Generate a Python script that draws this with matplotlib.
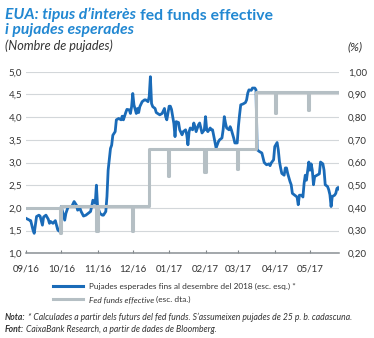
import matplotlib
matplotlib.use("Agg")
import matplotlib.pyplot as plt
from matplotlib.lines import Line2D
import pandas as pd

FONT = ['Liberation Sans Narrow', 'Lato', 'DejaVu Sans']
plt.rcParams['font.family'] = FONT

# Expected rate hikes until December 2018 (left scale, number of hikes)
hike_dates = [
    "2016-09-01", "2016-09-04", "2016-09-05", "2016-09-07", "2016-09-08", "2016-09-09",
    "2016-09-10", "2016-09-12", "2016-09-13", "2016-09-15", "2016-09-16", "2016-09-18",
    "2016-09-20", "2016-09-21", "2016-09-22", "2016-09-24", "2016-09-26", "2016-09-27",
    "2016-09-28", "2016-09-29", "2016-09-30", "2016-10-01", "2016-10-04", "2016-10-05",
    "2016-10-07", "2016-10-10", "2016-10-12", "2016-10-14", "2016-10-15", "2016-10-17",
    "2016-10-18", "2016-10-20", "2016-10-22", "2016-10-24", "2016-10-26", "2016-10-27",
    "2016-10-28", "2016-10-30", "2016-10-31", "2016-11-01", "2016-11-03", "2016-11-05",
    "2016-11-06", "2016-11-08", "2016-11-09", "2016-11-10", "2016-11-12", "2016-11-13",
    "2016-11-14", "2016-11-16", "2016-11-17", "2016-11-19", "2016-11-21", "2016-11-22",
    "2016-11-23", "2016-11-25", "2016-11-26", "2016-11-28", "2016-11-29", "2016-11-30",
    "2016-12-01", "2016-12-02", "2016-12-04", "2016-12-05", "2016-12-06", "2016-12-07",
    "2016-12-09", "2016-12-11", "2016-12-12", "2016-12-14", "2016-12-15", "2016-12-16",
    "2016-12-17", "2016-12-18", "2016-12-20", "2016-12-21", "2016-12-24", "2016-12-26",
    "2016-12-28", "2016-12-29", "2016-12-30", "2017-01-01", "2017-01-02", "2017-01-03",
    "2017-01-05", "2017-01-06", "2017-01-07", "2017-01-09", "2017-01-10", "2017-01-12",
    "2017-01-13", "2017-01-15", "2017-01-16", "2017-01-17", "2017-01-18", "2017-01-19",
    "2017-01-21", "2017-01-22", "2017-01-23", "2017-01-24", "2017-01-26", "2017-01-27",
    "2017-01-28", "2017-01-29", "2017-01-31", "2017-02-01", "2017-02-02", "2017-02-03",
    "2017-02-05", "2017-02-06", "2017-02-07", "2017-02-09", "2017-02-10", "2017-02-12",
    "2017-02-13", "2017-02-15", "2017-02-16", "2017-02-17", "2017-02-18", "2017-02-19",
    "2017-02-21", "2017-02-22", "2017-02-23", "2017-02-25", "2017-02-26", "2017-02-28",
    "2017-03-01", "2017-03-02", "2017-03-03", "2017-03-05", "2017-03-07", "2017-03-08",
    "2017-03-09", "2017-03-10", "2017-03-12", "2017-03-13", "2017-03-15", "2017-03-16",
    "2017-03-17", "2017-03-19", "2017-03-21", "2017-03-22", "2017-03-23", "2017-03-25",
    "2017-03-27", "2017-03-28", "2017-03-29", "2017-03-31", "2017-04-01", "2017-04-03",
    "2017-04-04", "2017-04-05", "2017-04-06", "2017-04-07", "2017-04-09", "2017-04-10",
    "2017-04-11", "2017-04-12", "2017-04-14", "2017-04-15", "2017-04-16", "2017-04-18",
    "2017-04-20", "2017-04-21", "2017-04-22", "2017-04-24", "2017-04-25", "2017-04-26",
    "2017-04-27", "2017-04-28", "2017-04-30", "2017-05-01", "2017-05-02", "2017-05-03",
    "2017-05-04", "2017-05-05", "2017-05-07", "2017-05-09", "2017-05-10", "2017-05-12",
    "2017-05-13", "2017-05-14", "2017-05-16", "2017-05-17", "2017-05-18", "2017-05-19",
    "2017-05-20", "2017-05-22", "2017-05-23", "2017-05-24", "2017-05-25", "2017-05-26",
]
hike_values = [
    1.77, 1.73, 1.72, 1.51, 1.44, 1.62,
    1.81, 1.84, 1.82, 1.62, 1.80, 1.84,
    1.75, 1.66, 1.70, 1.66, 1.72, 1.62,
    1.52, 1.49, 1.50, 2.03, 1.73, 1.88,
    2.03, 2.03, 2.14, 2.06, 1.95, 1.99,
    1.92, 1.82, 1.84, 1.88, 1.92, 2.03,
    2.17, 2.10, 2.50, 2.03, 1.88, 1.84,
    1.84, 1.92, 2.25, 2.83, 3.31, 3.38,
    3.60, 3.68, 3.94, 3.97, 3.94, 4.02,
    3.94, 4.10, 4.17, 4.16, 4.08, 4.23,
    4.52, 4.27, 4.08, 4.19, 4.10, 4.23,
    4.34, 4.38, 4.38, 4.34, 4.45, 4.89,
    4.30, 4.23, 4.19, 4.10, 4.05, 4.08,
    4.19, 4.01, 3.94, 4.24, 4.24, 4.17,
    3.86, 3.57, 3.90, 3.88, 3.72, 3.61,
    3.68, 3.72, 3.61, 3.39, 3.68, 3.76,
    3.72, 3.87, 3.79, 3.68, 3.83, 3.87,
    3.76, 3.65, 3.72, 4.01, 3.72, 3.68,
    3.76, 3.72, 3.72, 3.46, 3.32, 3.46,
    3.50, 3.54, 3.72, 4.01, 3.87, 3.76,
    3.72, 3.79, 3.72, 3.54, 3.43, 3.43,
    3.79, 4.05, 4.27, 4.29, 4.32, 4.38,
    4.53, 4.60, 4.59, 4.64, 4.64, 4.60,
    3.28, 3.24, 3.21, 3.10, 3.00, 2.95,
    2.97, 2.93, 2.99, 3.06, 3.35, 3.44,
    3.28, 3.02, 2.88, 2.76, 2.72, 2.88,
    2.88, 2.76, 2.58, 2.51, 2.32, 2.28,
    2.24, 2.07, 2.28, 2.28, 2.24, 2.54,
    2.72, 2.61, 3.01, 2.83, 2.97, 2.83,
    2.51, 2.69, 2.72, 2.75, 3.01, 2.97,
    2.83, 2.51, 2.47, 2.40, 2.29, 2.03,
    2.25, 2.28, 2.32, 2.43, 2.45, 2.41,
]

# Fed funds effective rate (right scale, %), given at each change of level
rate_dates = [
    "2016-09-01", "2016-09-30", "2016-10-01", "2016-10-31", "2016-11-01",
    "2016-11-30", "2016-12-01", "2016-12-15", "2016-12-31", "2017-01-01",
    "2017-01-31", "2017-02-01", "2017-02-28", "2017-03-01", "2017-03-16",
    "2017-04-01", "2017-04-02", "2017-04-29", "2017-04-30", "2017-05-26",
]
rate_values = [
    0.40, 0.29, 0.41, 0.30, 0.41,
    0.30, 0.41, 0.66, 0.54, 0.66,
    0.56, 0.66, 0.57, 0.66, 0.91,
    0.82, 0.91, 0.83, 0.91, 0.91,
]

month_ticks = ["2016-09-01", "2016-10-01", "2016-11-01", "2016-12-01", "2017-01-01",
               "2017-02-01", "2017-03-01", "2017-04-01", "2017-05-01"]
month_labels = ["09/16", "10/16", "11/16", "12/16", "01/17",
                "02/17", "03/17", "04/17", "05/17"]
left_ticks = [1.0, 1.5, 2.0, 2.5, 3.0, 3.5, 4.0, 4.5, 5.0]
right_ticks = [0.20, 0.30, 0.40, 0.50, 0.60, 0.70, 0.80, 0.90, 1.00]

TITLE_BLUE = "#2288d2"
LINE_BLUE = "#1a6bb8"
GREY = "#b5bfc4"
GRID = "#d3d7da"
TEXT = "#333333"

W, H = 374, 338
fig = plt.figure(figsize=(W / 100, H / 100), dpi=100)
renderer = fig.canvas.get_renderer()

# plot area in pixel terms
x0, x1 = 26.0, 339.3
y_top, y_bot = 71.7, 253.3
ax = fig.add_axes([x0 / W, 1 - y_bot / H, (x1 - x0) / W, (y_bot - y_top) / H])
ax2 = ax.twinx()

hd = pd.to_datetime(hike_dates)
rd = pd.to_datetime(rate_dates)
ax.plot(hd, hike_values, color=LINE_BLUE, lw=2.0, solid_joinstyle='round', zorder=3)
ax2.plot(rd, rate_values, color=GREY, lw=2.2, drawstyle='steps-post',
         solid_joinstyle='round', zorder=3)

ax.set_xlim(pd.Timestamp("2016-09-01"), pd.Timestamp("2017-05-26"))
ax.set_ylim(1.0, 5.0)
ax2.set_ylim(0.20, 1.00)

ax.set_yticks(left_ticks)
ax.set_yticklabels([f"{v:.1f}".replace(".", ",") for v in left_ticks])
ax2.set_yticks(right_ticks)
ax2.set_yticklabels([f"{v:.2f}".replace(".", ",") for v in right_ticks])
ax.tick_params(axis='y', length=0, pad=2.8, labelsize=7, labelcolor=TEXT)
ax2.tick_params(axis='y', length=0, pad=6.3, labelsize=7, labelcolor=TEXT)
ax.grid(axis='y', color=GRID, lw=0.8, zorder=0)
ax.set_axisbelow(True)

ticks = pd.to_datetime(month_ticks)
ax.set_xticks(ticks)
ax.set_xticklabels([])
ax.tick_params(axis='x', direction='in', length=2.5, width=0.8, color='#7d8387')
for t, lab in zip(ticks, month_labels):
    ax.text(t, -(269 - y_bot) / (y_bot - y_top), lab, transform=ax.get_xaxis_transform(),
            ha='center', va='center', fontsize=7, color=TEXT)

for s in ['top', 'left', 'right']:
    ax.spines[s].set_visible(False)
    ax2.spines[s].set_visible(False)
ax2.spines['bottom'].set_visible(False)
ax.spines['bottom'].set_color('#8a9094')
ax.spines['bottom'].set_linewidth(1.1)


def text_runs(x, y, parts, size, color, target=None):
    """Draw consecutive text pieces with their own weight/style on one baseline."""
    def measure(sz):
        widths = []
        for txt, wt, st in parts:
            t = fig.text(0, 0, txt, fontsize=sz, fontweight=wt, fontstyle=st)
            widths.append(t.get_window_extent(renderer).width)
            t.remove()
        t = fig.text(0, 0, "n n", fontsize=sz)
        a = t.get_window_extent(renderer).width
        t.remove()
        t = fig.text(0, 0, "nn", fontsize=sz)
        b = t.get_window_extent(renderer).width
        t.remove()
        return widths, a - b

    if target is not None:
        widths, gap = measure(size)
        total = sum(widths) + gap * (len(parts) - 1)
        size = size * target / total
    widths, gap = measure(size)
    cx = x
    for (txt, wt, st), w in zip(parts, widths):
        fig.text(cx / W, 1 - y / H, txt, fontsize=size, fontweight=wt, fontstyle=st,
                 color=color, ha='left', va='baseline')
        cx += w + gap
    return size


# title
tsize = text_runs(5, 19.5, [("EUA: tipus d’interès", 'bold', 'italic'),
                            ("fed funds effective", 'bold', 'normal')],
                  10, TITLE_BLUE, target=267)
text_runs(5, 34, [("i pujades esperades", 'bold', 'italic')], tsize, TITLE_BLUE)

# axis captions
text_runs(5, 50, [("(Nombre de pujades)", 'normal', 'italic')], 8, TEXT, target=108)
text_runs(348, 50, [("(%)", 'normal', 'italic')], 8, TEXT, target=15)

# legend
fig.add_artist(Line2D([52.7 / W, 83 / W], [1 - 285.7 / H] * 2, color=LINE_BLUE, lw=2.2))
fig.add_artist(Line2D([52.7 / W, 83 / W], [1 - 299 / H] * 2, color=GREY, lw=2.2))
lsize = text_runs(89, 288.5, [("Pujades esperades fins al desembre del 2018 (esc. esq.) *",
                               'normal', 'normal')], 7, TEXT, target=206)
text_runs(89, 301.8, [("Fed funds effective", 'normal', 'italic'),
                      ("(esc. dta.)", 'normal', 'normal')], lsize, TEXT)

# notes
nsize = text_runs(5, 320, [("Nota:", 'bold', 'italic'),
                           ("* Calculades a partir dels futurs del fed funds. "
                            "S’assumeixen pujades de 25 p. b. cadascuna.", 'normal', 'italic')],
                  7, TEXT, target=345)
text_runs(5, 332, [("Font:", 'bold', 'italic'),
                   ("CaixaBank Research, a partir de dades de Bloomberg.", 'normal', 'italic')],
          nsize, TEXT)

fig.savefig("out.png", dpi=100)
